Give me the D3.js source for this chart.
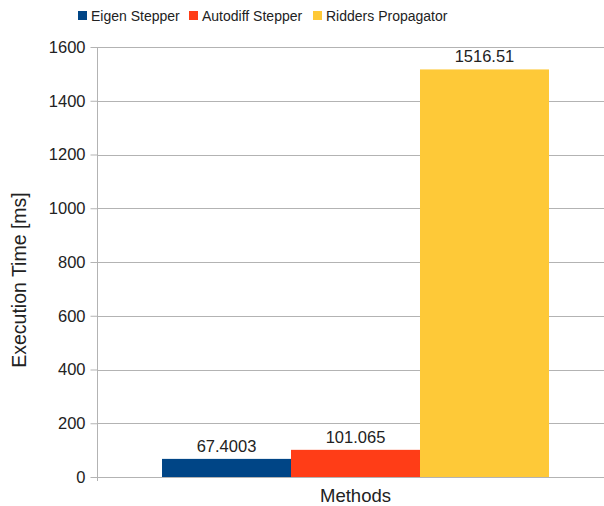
<!DOCTYPE html>
<html>
<head>
<meta charset="utf-8">
<script src="https://cdn.jsdelivr.net/npm/d3@7"></script>
<style>
  html, body { margin: 0; padding: 0; background: #fff; }
  svg { display: block; font-family: "Liberation Sans", Arial, sans-serif; }
</style>
</head>
<body>
<svg id="chart" width="604" height="506"></svg>
<script>
// Execution time per propagation method
const categories = ["Methods"];
const seriesNames = ["Eigen Stepper", "Autodiff Stepper", "Ridders Propagator"];
const seriesValues = [67.4003, 101.065, 1516.51];
const seriesLabels = ["67.4003", "101.065", "1516.51"];
const seriesColors = ["#004586", "#ff3d17", "#fec938"];
const yTicks = [0, 200, 400, 600, 800, 1000, 1200, 1400, 1600];

const svg = d3.select("#chart");
const plot = { left: 97, right: 614, top: 47, bottom: 477 };

const y = d3.scaleLinear().domain([0, 1600]).range([plot.bottom, plot.top]);
const x0 = d3.scaleBand().domain(categories).range([plot.left, plot.right])
  .paddingInner(0).paddingOuter(0.168);
const x1 = d3.scaleBand().domain(seriesNames).range([0, x0.bandwidth()]).padding(0);

// horizontal gridlines
svg.append("g")
  .selectAll("line")
  .data(yTicks)
  .join("line")
  .attr("x1", plot.left).attr("x2", 604)
  .attr("y1", d => Math.round(y(d)) + 0.5).attr("y2", d => Math.round(y(d)) + 0.5)
  .attr("stroke", "#b3b3b3").attr("stroke-width", 1);

// y axis
const yAxis = d3.axisLeft(y).tickValues(yTicks).tickSize(7).tickPadding(5).tickFormat(d3.format("d"));
const gy = svg.append("g").attr("transform", `translate(${plot.left + 0.5},0)`).call(yAxis);
gy.select(".domain").attr("stroke", "#b3b3b3").attr("d", `M0,${plot.top}V${plot.bottom + 4}`);
gy.selectAll(".tick line").attr("stroke", "#b3b3b3");
gy.selectAll(".tick text")
  .attr("fill", "#222").attr("font-size", "16.5px")
  .attr("font-family", "'Liberation Sans', Arial, sans-serif");

// bars
const groups = svg.append("g")
  .selectAll("g")
  .data(categories)
  .join("g")
  .attr("transform", d => `translate(${x0(d)},0)`);

const rows = seriesNames.map((name, i) => ({ name, value: seriesValues[i], label: seriesLabels[i], color: seriesColors[i] }));

groups.selectAll("rect")
  .data(rows)
  .join("rect")
  .attr("x", d => x1(d.name))
  .attr("y", d => y(d.value))
  .attr("width", x1.bandwidth())
  .attr("height", d => y(0) - y(d.value))
  .attr("fill", d => d.color);

groups.selectAll("text.value")
  .data(rows)
  .join("text")
  .attr("class", "value")
  .attr("x", d => x1(d.name) + x1.bandwidth() / 2)
  .attr("y", d => y(d.value) - 7)
  .attr("text-anchor", "middle")
  .attr("font-size", "16.5px")
  .attr("fill", "#222")
  .text(d => d.label);

// axis titles
svg.append("text")
  .attr("x", x0(categories[0]) + x0.bandwidth() / 2)
  .attr("y", 502)
  .attr("text-anchor", "middle")
  .attr("font-size", "18.5px")
  .attr("fill", "#222")
  .text("Methods");

svg.append("text")
  .attr("transform", `translate(26,280) rotate(-90)`)
  .attr("text-anchor", "middle")
  .attr("font-size", "19.5px")
  .attr("fill", "#222")
  .text("Execution Time [ms]");

// legend
const legendX = [78, 189, 313];
const legend = svg.append("g")
  .selectAll("g")
  .data(seriesNames)
  .join("g")
  .attr("transform", (d, i) => `translate(${legendX[i]},0)`);
legend.append("rect")
  .attr("x", 0).attr("y", 11).attr("width", 9).attr("height", 9)
  .attr("fill", (d, i) => seriesColors[i]);
legend.append("text")
  .attr("x", 13).attr("y", 20.5)
  .attr("font-size", "14px")
  .attr("fill", "#222")
  .text(d => d);
</script>
</body>
</html>
